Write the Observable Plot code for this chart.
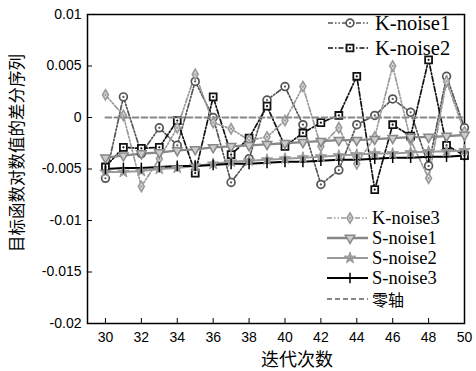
<!DOCTYPE html>
<html><head><meta charset="utf-8">
<script src="https://cdn.jsdelivr.net/npm/d3@7"></script>
<script src="https://cdn.jsdelivr.net/npm/@observablehq/plot@0.6"></script>
<style>body{margin:0;background:#fff}#chart{width:476px;height:371px}</style>
</head><body><div id="chart"></div>
<script>
const iterations = [30,31,32,33,34,35,36,37,38,39,40,41,42,43,44,45,46,47,48,49,50];
const kNoise1 = [-0.0059,0.0020,-0.0035,-0.0010,-0.0027,0.0035,0.0000,-0.0063,-0.0040,0.0017,0.0030,-0.0007,-0.0065,-0.0051,-0.0007,0.0002,0.0018,0.0005,-0.0047,0.0040,-0.0010];
const kNoise2 = [-0.0048,-0.0029,-0.0030,-0.0029,-0.0003,-0.0054,0.0020,-0.0036,-0.0020,0.0011,-0.0028,-0.0015,-0.0005,0.0002,0.0040,-0.0070,-0.0007,-0.0018,0.0056,-0.0027,-0.0037];
const kNoise3 = [0.0022,0.0002,-0.0067,-0.0040,-0.0010,0.0042,-0.0005,-0.0011,-0.0022,-0.0019,-0.0003,0.0030,-0.0028,-0.0010,-0.0045,-0.0019,0.0050,-0.0022,-0.0059,0.0035,-0.0014];
const sNoise1 = [-0.0039,-0.0037,-0.0035,-0.0034,-0.0032,-0.0031,-0.0029,-0.0028,-0.0027,-0.0026,-0.0025,-0.0024,-0.0023,-0.0022,-0.0022,-0.0021,-0.0020,-0.0019,-0.0019,-0.0018,-0.0017];
const sNoise2 = [-0.0053,-0.0053,-0.0052,-0.0050,-0.0049,-0.0047,-0.0045,-0.0043,-0.0042,-0.0041,-0.0040,-0.0039,-0.0038,-0.0037,-0.0036,-0.0035,-0.0035,-0.0034,-0.0033,-0.0033,-0.0032];
const sNoise3 = [-0.0050,-0.0049,-0.0049,-0.0048,-0.0047,-0.0047,-0.0046,-0.0045,-0.0045,-0.0044,-0.0043,-0.0043,-0.0042,-0.0041,-0.0041,-0.0040,-0.0039,-0.0039,-0.0038,-0.0038,-0.0037];
const zeroAxis = [0,0,0,0,0,0,0,0,0,0,0,0,0,0,0,0,0,0,0,0,0];
const xTicks = [30,32,34,36,38,40,42,44,46,48,50];
const yTicks = [0.01,0.005,0,-0.005,-0.01,-0.015,-0.02];
const yTickLabels = ["0.01","0.005","0","-0.005","-0.01","-0.015","-0.02"];
const seriesNames = ["K-noise1","K-noise2","K-noise3","S-noise1","S-noise2","S-noise3","零轴"];
const xLabel = "迭代次数";
const yLabel = "目标函数对数值的差分序列";

const vbar = {draw(ctx, size){ const h = Math.sqrt(size) * 0.55; ctx.moveTo(0,-h); ctx.lineTo(0,h); }};

const styles = {
  "K-noise1": {values:kNoise1, stroke:"#555", width:1.7, dash:"5,2,1.5,2,1.5,2", symbol:"circle", r:3.9, fill:"#fff", mstroke:"#555", mwidth:1.7, inner:"#555"},
  "K-noise2": {values:kNoise2, stroke:"#111", width:1.7, dash:"5,2,1.5,2", symbol:"square", r:3.9, fill:"#fff", mstroke:"#111", mwidth:1.8, inner:"#111"},
  "K-noise3": {values:kNoise3, stroke:"#9a9a9a", width:1.7, dash:"5,2,1.5,2,1.5,2", symbol:"diamond", r:3.1, fill:"#ddd", mstroke:"#999", mwidth:1.6, inner:"#999"},
  "S-noise1": {values:sNoise1, stroke:"#888", width:2.3, dash:null, symbol:"triangle", rotate:180, r:3.5, fill:"#ccc", mstroke:"#888", mwidth:1.5},
  "S-noise2": {values:sNoise2, stroke:"#9a9a9a", width:2, dash:null, symbol:"star", r:3.6, fill:"#999", mstroke:"#999", mwidth:1},
  "S-noise3": {values:sNoise3, stroke:"#000", width:2, dash:null, symbol:vbar, r:5.5, fill:"none", mstroke:"#000", mwidth:1.5},
};

const marks = [
  Plot.axisY({ticks:yTicks, tickSize:0, tickPadding:6, label:null, fontSize:14,
    tickFormat:d => yTickLabels[yTicks.indexOf(d)]}),
  Plot.axisY({ticks:yTicks, tickSize:5, dx:5, label:null, tickFormat:() => ""}),
  Plot.axisX({ticks:xTicks, tickSize:0, tickPadding:9, label:null, fontSize:14, tickFormat:d => String(d)}),
  Plot.axisX({ticks:xTicks, tickSize:5, dy:-5, label:null, tickFormat:() => ""}),
  Plot.frame({stroke:"#000", strokeWidth:1.5}),
];
for (const name of seriesNames.slice(0,6)) {
  const s = styles[name];
  marks.push(Plot.lineY(s.values, {x:iterations, stroke:s.stroke, strokeWidth:s.width, strokeDasharray:s.dash}));
}
for (const name of seriesNames.slice(0,6)) {
  const s = styles[name];
  marks.push(Plot.dot(s.values, {x:iterations, y:d=>d, symbol:s.symbol, r:s.r, fill:s.fill, stroke:s.mstroke, strokeWidth:s.mwidth, rotate:s.rotate || 0}));
  if (s.inner) marks.push(Plot.dot(s.values, {x:iterations, y:d=>d, r:1.1, fill:s.inner}));
}
marks.push(Plot.lineY(zeroAxis, {x:iterations, stroke:"#888", strokeWidth:1.8, strokeDasharray:"6,3"}));

const chart = Plot.plot({
  width:476, height:371,
  marginLeft:87, marginRight:12, marginTop:14, marginBottom:48,
  x:{domain:[29,50]},
  y:{domain:[-0.02,0.01]},
  style:{fontFamily:"'Liberation Sans', Arial, sans-serif", fontSize:"14px", color:"#000", background:"#fff"},
  marks
});
document.getElementById("chart").appendChild(chart);

const svg = d3.select(chart);
svg.append("text").attr("transform","translate(16,153) rotate(-90)")
  .attr("text-anchor","middle").attr("dominant-baseline","central")
  .style("font-family","'Noto Sans CJK SC', sans-serif").style("font-size","16.5px").text(yLabel);
svg.append("text").attr("x",297).attr("y",358)
  .attr("text-anchor","middle").attr("dominant-baseline","central")
  .style("font-family","'Noto Sans CJK SC', sans-serif").style("font-size","18px").text(xLabel);

// legend
const legendRows = [
  {name:"K-noise1", y:23, x0:328, x1:370, xm:350, tx:375, fs:20.5},
  {name:"K-noise2", y:48, x0:328, x1:370, xm:350, tx:375, fs:20.5},
  {name:"K-noise3", y:218, x0:327, x1:368, xm:350, tx:372, fs:18.5},
  {name:"S-noise1", y:238, x0:327, x1:368, xm:350, tx:372, fs:18.5},
  {name:"S-noise2", y:258, x0:327, x1:368, xm:350, tx:372, fs:18.5},
  {name:"S-noise3", y:278, x0:327, x1:368, xm:350, tx:372, fs:18.5},
  {name:"零轴", y:299, x0:327, x1:368, xm:null, tx:372, fs:16},
];
const symMap = {circle:d3.symbolCircle, square:d3.symbolSquare, diamond:d3.symbolDiamond, triangle:d3.symbolTriangle, star:d3.symbolStar};
const lg = svg.append("g").attr("text-anchor","start");
for (const row of legendRows) {
  const s = styles[row.name];
  const stroke = s ? s.stroke : "#888", width = s ? s.width : 1.8, dash = s ? s.dash : "5,3";
  lg.append("line").attr("x1",row.x0).attr("x2",row.x1).attr("y1",row.y).attr("y2",row.y)
    .attr("stroke",stroke).attr("stroke-width",width).attr("stroke-dasharray",dash);
  if (s && row.xm) {
    const type = typeof s.symbol === "string" ? symMap[s.symbol] : s.symbol;
    lg.append("path").attr("d", d3.symbol(type, Math.PI * s.r * s.r)())
      .attr("transform",`translate(${row.xm},${row.y}) rotate(${s.rotate||0})`)
      .attr("fill",s.fill).attr("stroke",s.mstroke).attr("stroke-width",s.mwidth);
    if (s.inner) lg.append("circle").attr("cx",row.xm).attr("cy",row.y).attr("r",1.1).attr("fill",s.inner);
  }
  const isCJK = row.name === "零轴";
  lg.append("text").attr("x",row.tx).attr("y",row.y).attr("dominant-baseline","central").attr("text-anchor","start")
    .style("font-family", isCJK ? "'Noto Sans CJK SC', sans-serif" : "'Liberation Serif', 'Times New Roman', serif")
    .style("font-size", row.fs + "px").text(row.name);
}
</script>
</body></html>
